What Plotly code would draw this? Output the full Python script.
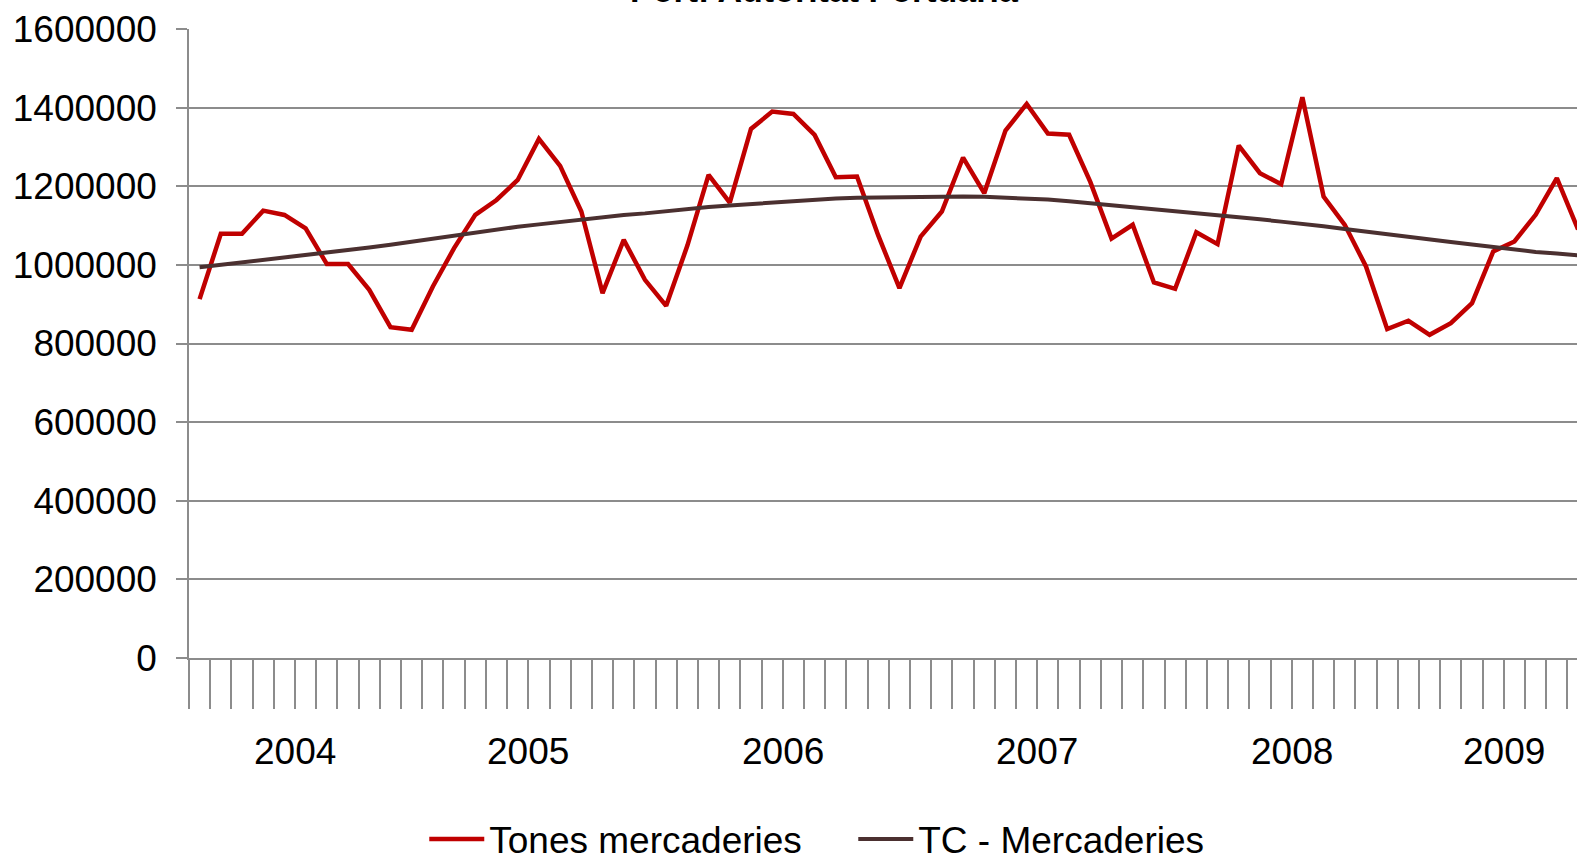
import plotly.graph_objects as go
import pandas as pd

# ---- data -------------------------------------------------------------
months = pd.period_range("2004-03", "2009-08", freq="M")
month_labels = [p.strftime("%Y-%m") for p in months]

tones_mercaderies = [
    913000, 1079000, 1079000, 1138000, 1127000, 1093000, 1002000, 1002000, 936600, 841700,
    834900, 945000, 1042600, 1127300, 1165000, 1216000, 1320500, 1251800, 1135700, 928200,
    1063700, 962000, 895900, 1049000,
    1229000, 1158600, 1345900, 1389900, 1384000, 1330600, 1223000, 1224700, 1075000, 940900,
    1072000, 1135700,
    1273000, 1182400, 1341600, 1409500, 1334000, 1331000, 1211000, 1067000, 1102000, 955200,
    939000, 1083200,
    1052700, 1303500, 1233200, 1205300, 1426500, 1173800, 1101800, 996000, 836600, 857800,
    822200, 851900,
    902700, 1034000, 1059400, 1127300, 1220500, 1090000,
]

tc_mercaderies = [
    994000, 1000000, 1006000, 1012000, 1018000, 1024000, 1031000, 1038000, 1044000, 1051000,
    1059000, 1067000, 1075000, 1083000, 1090000, 1097000, 1103000, 1109000, 1116000, 1122000,
    1127000, 1131000, 1137000, 1142000,
    1147000, 1151000, 1155000, 1159000, 1162000, 1166000, 1169000, 1171000, 1172000, 1173000,
    1174000, 1174000,
    1174000, 1173000, 1171000, 1168000, 1166000, 1162000, 1157000, 1153000, 1148000, 1143000,
    1138000, 1133000,
    1128000, 1122000, 1116000, 1110000, 1105000, 1098000, 1091000, 1084000, 1078000, 1071000,
    1064000, 1058000,
    1052000, 1045000, 1039000, 1033000, 1029000, 1024000,
]

title_text = "Port: Autoritat Portuària"
series_names = ["Tones mercaderies", "TC - Mercaderies"]

# ---- derived category geometry ---------------------------------------
xi = list(range(len(month_labels)))
year_of = [p.year for p in months]
year_list = sorted(set(year_of))
year_first = [year_of.index(y) for y in year_list]
year_last = [len(year_of) - 1 - year_of[::-1].index(y) for y in year_list]
year_bounds = [f - 0.5 for f in year_first]
year_centers = [((f - 0.5) + (l + 0.5)) / 2 for f, l in zip(year_first, year_last)]

FONT = "Liberation Sans, Arial, sans-serif"
GRID = "#8c8c8c"

fig = go.Figure()
fig.add_trace(go.Scatter(
    x=xi, y=tones_mercaderies, mode="lines", name=series_names[0],
    line=dict(color="#C00000", width=4.5), customdata=month_labels,
))
fig.add_trace(go.Scatter(
    x=xi, y=tc_mercaderies, mode="lines", name=series_names[1],
    line=dict(color="#4B3030", width=4), customdata=month_labels,
))

annotations = []
for y, c in zip(year_list, year_centers):
    annotations.append(dict(
        x=c, xref="x", y=-0.1487, yref="paper", text=str(y), showarrow=False,
        xanchor="center", yanchor="middle", font=dict(family=FONT, size=37, color="black"),
    ))
annotations.append(dict(
    x=0.4575, xref="paper", y=1.029, yref="paper", text="<b>" + title_text + "</b>",
    showarrow=False, xanchor="center", yanchor="bottom",
    font=dict(family=FONT, size=34, color="black"),
))

fig.update_layout(
    width=1577, height=857,
    margin=dict(l=189, r=0, t=29, b=199, autoexpand=False),
    paper_bgcolor="white", plot_bgcolor="white",
    font=dict(family=FONT, size=37, color="black"),
    showlegend=True,
    legend=dict(
        orientation="h", x=0.1695, xanchor="left", y=-0.2885, yanchor="middle",
        font=dict(family=FONT, size=37, color="black"), itemwidth=55,
        entrywidth=359, entrywidthmode="pixels",
        bgcolor="rgba(0,0,0,0)", tracegroupgap=0,
    ),
    annotations=annotations,
    xaxis=dict(
        range=[-0.5, 64.95], showgrid=False, zeroline=False, automargin=False,
        showline=True, linecolor=GRID, linewidth=1.5,
        tickmode="array", tickvals=year_bounds, ticktext=[""] * len(year_bounds),
        ticks="outside", ticklen=131, tickwidth=1.5, tickcolor=GRID,
        showticklabels=False,
        minor=dict(tickmode="linear", tick0=-0.5, dtick=1, ticks="outside",
                   ticklen=49, tickwidth=1.5, tickcolor=GRID, showgrid=False),
    ),
    yaxis=dict(
        range=[0, 1600000], tickmode="linear", tick0=0, dtick=200000, tickformat="d",
        showgrid=True, gridcolor=GRID, gridwidth=1.5, zeroline=False, automargin=False,
        showline=True, linecolor=GRID, linewidth=1.5,
        ticks="outside", ticklen=11, tickwidth=1.5, tickcolor=GRID,
        tickfont=dict(family=FONT, size=37, color="black"), ticklabelstandoff=12,
    ),
)

fig.write_html(
    "out.html",
    config={"displayModeBar": False},
    post_script="document.documentElement.style.margin='0';"
                "document.body.style.margin='0';document.body.style.overflow='hidden';",
)
